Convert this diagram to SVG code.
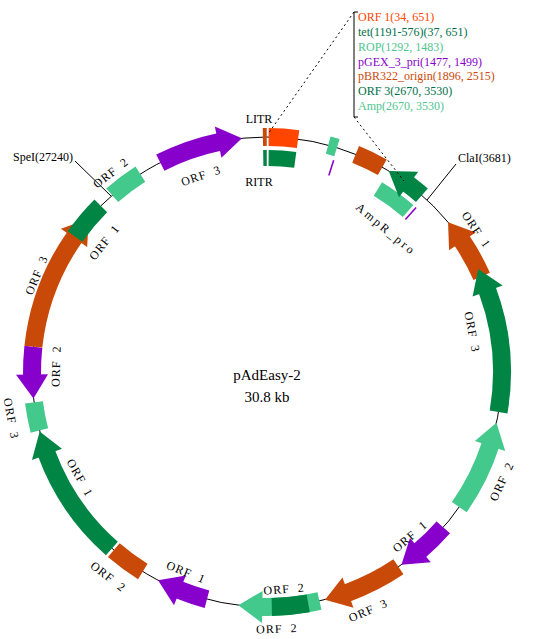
<svg xmlns="http://www.w3.org/2000/svg" width="534" height="639" viewBox="0 0 534 639">
<style>
text{font-family:"Liberation Serif","Times New Roman",serif;font-size:12px;fill:#000}
.lbl{text-anchor:middle;letter-spacing:1px}
.og{stroke:#FF4500;fill:#FF4500}
.br{stroke:#C94A08;fill:#C94A08}
.dg{stroke:#008545;fill:#008545}
.lg{stroke:#44C98C;fill:#44C98C}
.pu{stroke:#8800CC;fill:#8800CC}
.m{fill:none;stroke-width:18}
.i{fill:none;stroke-width:16}
.h{stroke:none}
.tog{fill:#FF4500}.tdg{fill:#00704A}.tlg{fill:#4EC690}.tpu{fill:#8800CC}.tbr{fill:#C94A08}
</style>
<rect width="534" height="639" fill="#fff"/>
<g id="backbone"><circle cx="267" cy="372" r="235" fill="none" stroke="#000" stroke-width="1"/></g>
<g id="features" transform="translate(267,372)">
<g id="LITR"><circle r="235" class="br m" stroke-dasharray="3.9 2000" transform="rotate(269)"/></g>
<g id="RITR"><circle r="214" class="dg i" stroke-dasharray="3.55 2000" transform="rotate(269)"/></g>
<g id="ORF1-top"><circle r="235" class="og m" stroke-dasharray="29.6 2000" transform="rotate(-89.6)"/></g>
<g id="tet"><circle r="214" class="dg i" stroke-dasharray="26.8 2000" transform="rotate(-89.57)"/></g>
<g id="ROP"><circle r="235" class="lg m" stroke-dasharray="9.15 2000" transform="rotate(-74.9)"/></g>
<g id="pGEX"><circle r="214" class="pu i" stroke-dasharray="1.6 2000" transform="rotate(-72.74)"/></g>
<g id="pBR322"><circle r="235" class="br m" stroke-dasharray="29.7 2000" transform="rotate(-67.84)"/></g>
<g id="Amp"><circle r="214" class="lg i" stroke-dasharray="37.5 2000" transform="rotate(-58.79)"/></g>
<g id="ORF3-top"><circle r="235" class="dg m" stroke-dasharray="18.2 2000" transform="rotate(-53.19)"/><polygon class="dg h" points="0,-251 -24,-233.8 0,-219" transform="rotate(37.06)"/></g>
<g id="AmpR_pro"><circle r="214" class="pu i" stroke-dasharray="1.6 2000" transform="rotate(-48)"/></g>
<g id="ORF1-right"><circle r="235" class="br m" stroke-dasharray="41 2000" transform="rotate(-34)"/><polygon class="br h" points="0,-251 -24,-233.8 0,-219" transform="rotate(56.25)"/></g>
<g id="ORF3-right"><circle r="235" class="dg m" stroke-dasharray="123.8 2000" transform="rotate(-20.4)"/><polygon class="dg h" points="0,-251 -24,-233.8 0,-219" transform="rotate(69.85)"/></g>
<g id="ORF2-right"><circle r="235" class="lg m" stroke-dasharray="69.7 2000" transform="rotate(18.1)"/><polygon class="lg h" points="0,-251 -24,-233.8 0,-219" transform="rotate(108.35)"/></g>
<g id="ORF1-lowright"><circle r="235" class="pu m" stroke-dasharray="33.2 2000" transform="rotate(41.4)"/><polygon class="pu h" points="0,-251 24,-233.8 0,-219" transform="rotate(139.25)"/></g>
<g id="ORF3-bottom"><circle r="235" class="br m" stroke-dasharray="57.8 2000" transform="rotate(56)"/><polygon class="br h" points="0,-251 24,-233.8 0,-219" transform="rotate(159.85)"/></g>
<g id="ORF2-bottom-a"><circle r="235" class="lg m" stroke-dasharray="58.6 2000" transform="rotate(77.1)"/><polygon class="lg h" points="0,-251 24,-233.8 0,-219" transform="rotate(181.15)"/></g>
<g id="ORF2-bottom-b"><circle r="235" class="dg m" stroke-dasharray="36.7 2000" transform="rotate(79.9)"/></g>
<g id="ORF1-lowleft"><circle r="235" class="pu m" stroke-dasharray="29.5 2000" transform="rotate(104.8)"/><polygon class="pu h" points="0,-251 24,-233.8 0,-219" transform="rotate(201.75)"/></g>
<g id="ORF2-lowleft"><circle r="235" class="br m" stroke-dasharray="36.1 2000" transform="rotate(121.9)"/></g>
<g id="ORF1-left"><circle r="235" class="dg m" stroke-dasharray="116.5 2000" transform="rotate(131.3)"/><polygon class="dg h" points="0,-251 24,-233.8 0,-219" transform="rotate(249.45)"/></g>
<g id="ORF3-left"><circle r="235" class="lg m" stroke-dasharray="28.7 2000" transform="rotate(165.6)"/></g>
<g id="ORF2-left"><circle r="235" class="pu m" stroke-dasharray="28.9 2000" transform="rotate(179.15)"/><polygon class="pu h" points="0,-251 -24,-233.8 0,-219" transform="rotate(269.4)"/></g>
<g id="ORF3-upleft"><circle r="235" class="br m" stroke-dasharray="118.3 2000" transform="rotate(186.2)"/><polygon class="br h" points="0,-251 24,-233.8 0,-219" transform="rotate(304.8)"/></g>
<g id="ORF1-upleft"><circle r="235" class="dg m" stroke-dasharray="40.2 2000" transform="rotate(215.2)"/></g>
<g id="ORF2-upleft"><circle r="235" class="lg m" stroke-dasharray="35.3 2000" transform="rotate(228.8)"/></g>
<g id="ORF3-topleft"><circle r="235" class="pu m" stroke-dasharray="62.5 2000" transform="rotate(243)"/><polygon class="pu h" points="0,-251 24,-233.8 0,-219" transform="rotate(348)"/></g>
</g>
<g id="connectors" fill="none" stroke="#000" stroke-width="1">
<line x1="427" y1="200" x2="456" y2="164"/>
<line x1="111" y1="196" x2="75" y2="161"/>
<path d="M354,12 L268,134 M354,117 L404,181" stroke-dasharray="2,3"/>
<path d="M358,12 H354 V117 H358"/>
</g>
<g id="labels" transform="translate(267,372)">
<text class="lbl" dy="4" transform="rotate(-18.6) translate(0,-207)">ORF&#160;&#160;3</text>
<text class="lbl" dy="4" transform="rotate(-38.1) translate(0,-253)">ORF&#160;&#160;2</text>
<text class="lbl" dy="4" transform="rotate(-51.4) translate(0,-208)">ORF&#160;&#160;1</text>
<text class="lbl" dy="4" transform="rotate(-67.2) translate(0,-250)">ORF&#160;&#160;3</text>
<text class="lbl" dy="4" transform="rotate(-88.4) translate(0,-211)">ORF&#160;&#160;2</text>
<text class="lbl" dy="4" transform="rotate(55.8) translate(0,-253)">ORF&#160;&#160;1</text>
<text class="lbl" dy="4" transform="rotate(79) translate(0,-209)">ORF&#160;&#160;3</text>
<text class="lbl" dy="4" style="letter-spacing:2.5px" transform="rotate(39.8) translate(0,-186)">AmpR_pro</text>
<text class="lbl" dy="4" transform="rotate(259.7) translate(0,-260) rotate(180)">ORF&#160;&#160;3</text>
<text class="lbl" dy="4" transform="rotate(240.5) translate(0,-215) rotate(180)">ORF&#160;&#160;1</text>
<text class="lbl" dy="4" transform="rotate(217.8) translate(0,-259) rotate(180)">ORF&#160;&#160;2</text>
<text class="lbl" dy="4" transform="rotate(202) translate(0,-216) rotate(180)">ORF&#160;&#160;1</text>
<text class="lbl" dy="4" transform="rotate(175.5) translate(0,-217.7) rotate(180)">ORF&#160;&#160;2</text>
<text class="lbl" dy="4" transform="rotate(177.8) translate(0,-257) rotate(180)">ORF&#160;&#160;2</text>
<text class="lbl" dy="4" transform="rotate(157) translate(0,-259) rotate(180)">ORF&#160;&#160;3</text>
<text class="lbl" dy="4" transform="rotate(139) translate(0,-218) rotate(180)">ORF&#160;&#160;1</text>
<text class="lbl" dy="4" transform="rotate(115) translate(0,-259) rotate(180)">ORF&#160;&#160;2</text>
</g>
<g id="site-labels">
<text x="259" y="123" text-anchor="middle">LITR</text>
<text x="259" y="186" text-anchor="middle">RITR</text>
<text x="458" y="162">ClaI(3681)</text>
<text x="13" y="161">SpeI(27240)</text>
</g>
<g id="title">
<text x="267" y="380" text-anchor="middle" style="font-size:15px">pAdEasy-2</text>
<text x="267" y="402" text-anchor="middle" style="font-size:15px">30.8 kb</text>
</g>
<g id="legend">
<text x="358" y="21" class="tog">ORF 1(34, 651)</text>
<text x="358" y="36" class="tdg">tet(1191-576)(37, 651)</text>
<text x="358" y="51" class="tlg">ROP(1292, 1483)</text>
<text x="358" y="65.5" class="tpu">pGEX_3_pri(1477, 1499)</text>
<text x="358" y="80" class="tbr">pBR322_origin(1896, 2515)</text>
<text x="358" y="95" class="tdg">ORF 3(2670, 3530)</text>
<text x="358" y="110" class="tlg">Amp(2670, 3530)</text>
</g>
</svg>
